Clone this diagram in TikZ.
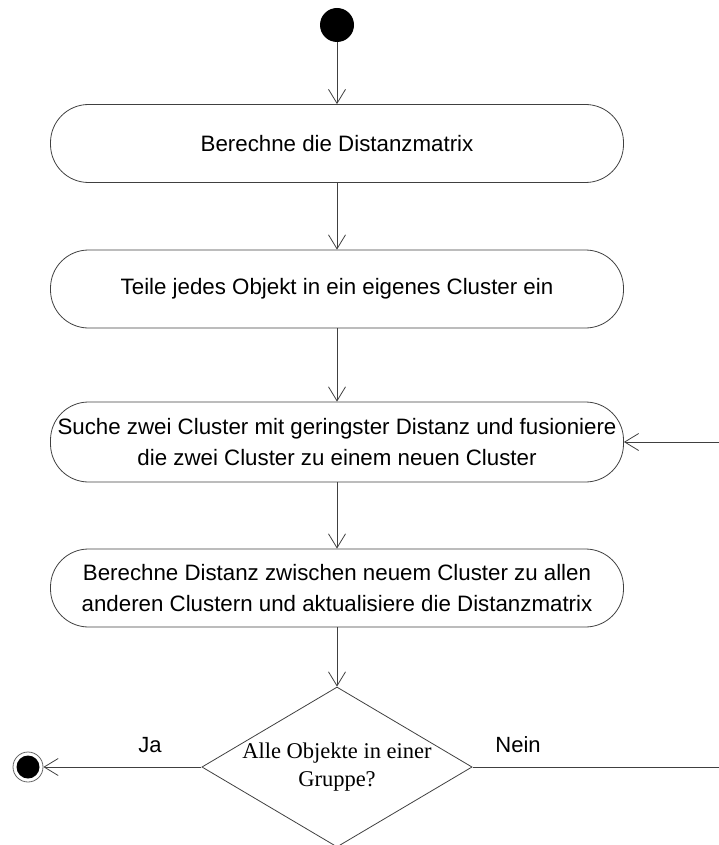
\documentclass[tikz,border=0pt]{standalone}
\usepackage{fontspec}
\setmainfont{Liberation Sans}
\newfontfamily\serifface{Liberation Serif}
\usetikzlibrary{arrows.meta,shapes.geometric}
\begin{document}
\begin{tikzpicture}[x=1pt,y=-1pt,
  line width=0.8pt,
  flow/.style={draw=black!75, -{Straight Barb[length=14pt,width=17pt,line width=0.8pt]}},
  action/.style={draw=black!75, rounded corners=38pt, minimum width=573pt, minimum height=78pt,
    align=center, inner sep=0pt, font=\fontsize{22.3}{30.5}\selectfont},
  decision/.style={draw=black!75, diamond, aspect=1.69, minimum width=270pt, minimum height=160pt,
    inner sep=0pt, align=center, font=\serifface\fontsize{22.5}{27.5}\selectfont},
  lbl/.style={font=\fontsize{22}{24}\selectfont}]
  \useasboundingbox (0,0) rectangle (719,845);
  \clip (0,0) rectangle (719,845);

  % start and end markers
  \node[circle, fill=black, minimum size=34pt, inner sep=0pt] (start) at (337,25) {};
  \node[circle, draw=black!60, line width=0.8pt, fill=white, minimum size=30pt, inner sep=0pt] (stop) at (28,767) {};
  \fill[black] (stop.center) circle (11.5pt);

  % actions
  \node[action] (a1) at (337,143.5) {Berechne die Distanzmatrix};
  \node[action] (a2) at (337,289) {Teile jedes Objekt in ein eigenes Cluster ein};
  \node[action, minimum height=80pt] (a3) at (337,442) {Suche zwei Cluster mit geringster Distanz und fusioniere\\die zwei Cluster zu einem neuen Cluster};
  \node[action] (a4) at (337,588) {Berechne Distanz zwischen neuem Cluster zu allen\\anderen Clustern und aktualisiere die Distanzmatrix};

  % decision
  \node[decision] (d) at (337,767) {Alle Objekte in einer\\Gruppe?};

  % loop corner, beyond the right edge
  \coordinate (r1) at (740,767);
  \coordinate (r2) at (740,442);

  \draw[flow] (start) -- (a1);
  \draw[flow] (a1) -- (a2);
  \draw[flow] (a2) -- (a3);
  \draw[flow] (a3) -- (a4);
  \draw[flow] (a4) -- (d);
  \draw[flow] (d.west) -- (stop);
  \draw[flow] (d.east) -- (r1) -- (r2) -- (a3.east);

  \node[lbl] (ja) at (150,745) {Ja};
  \node[lbl] (nein) at (518,745) {Nein};
\end{tikzpicture}
\end{document}
